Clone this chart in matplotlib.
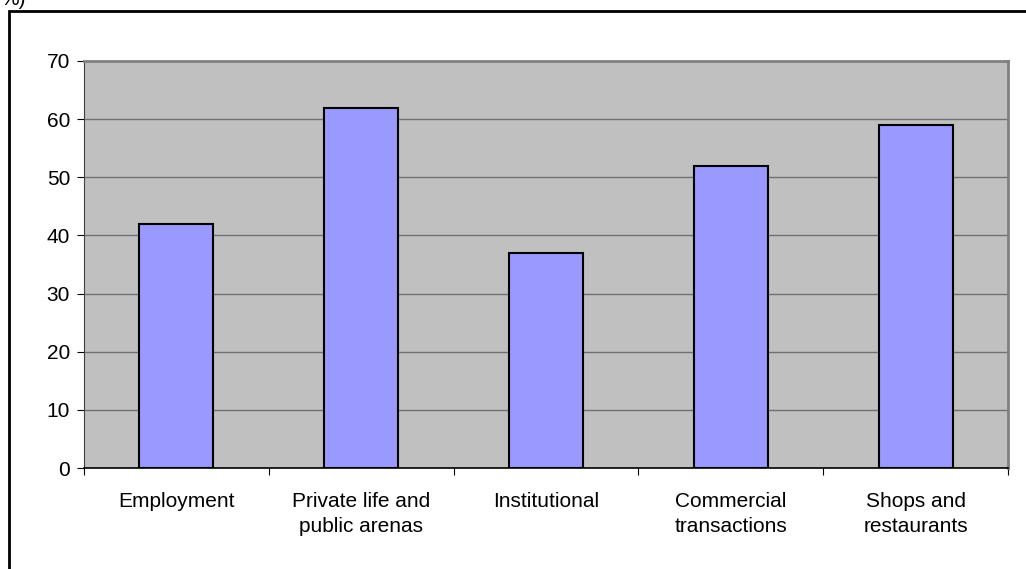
import matplotlib; matplotlib.use("Agg")
import matplotlib.pyplot as plt
from matplotlib.patches import Rectangle

categories = ["Employment", "Private life and\npublic arenas", "Institutional",
              "Commercial\ntransactions", "Shops and\nrestaurants"]
values = [42, 62, 37, 52, 59]
yticks = [0, 10, 20, 30, 40, 50, 60, 70]

plt.rcParams["font.family"] = ["Liberation Sans", "DejaVu Sans"]
W, H = 1026, 569
fig = plt.figure(figsize=(W / 100, H / 100), dpi=100)

# outer chart frame (runs off the right/bottom edge)
fig.patches.append(Rectangle((9 / W, -0.05), 1.05, 1 - 11 / H + 0.05, transform=fig.transFigure,
                             fill=False, edgecolor="black", lw=2, zorder=0))
fig.text(0 / W, 1 - 5 / H, "%)", fontsize=15, va="baseline", ha="left")

ax = fig.add_axes([84 / W, 1 - 468 / H, (1008 - 84) / W, (468 - 61) / H])
ax.set_facecolor("#C0C0C0")
x = range(len(values))
ax.bar(x, values, width=0.4, color="#9999FF", edgecolor="black", lw=1.5, zorder=3)
ax.set_xlim(-0.5, len(values) - 0.5)
ax.set_ylim(0, 70)
ax.set_yticks(yticks)
ax.yaxis.grid(True, color="#707070", lw=1, zorder=1)
ax.set_axisbelow(True)
ax.set_xticks([i + 0.5 for i in range(-1, len(values))], minor=False)
ax.set_xticklabels([])
ax.set_xticks(list(x), minor=True)
ax.set_xticklabels(categories, minor=True, fontsize=15, linespacing=1.45)
ax.tick_params(axis="x", which="minor", length=0, pad=17)
ax.tick_params(axis="x", which="major", length=5, direction="out", color="black")
ax.tick_params(axis="y", length=5, direction="out", labelsize=15, pad=5)
for s in ["top", "right"]:
    ax.spines[s].set_color("#808080")
    ax.spines[s].set_linewidth(2)
ax.spines["left"].set_color("#404040")
ax.spines["bottom"].set_color("black")
ax.spines["bottom"].set_linewidth(1.2)

fig.savefig("out.png", dpi=100)
